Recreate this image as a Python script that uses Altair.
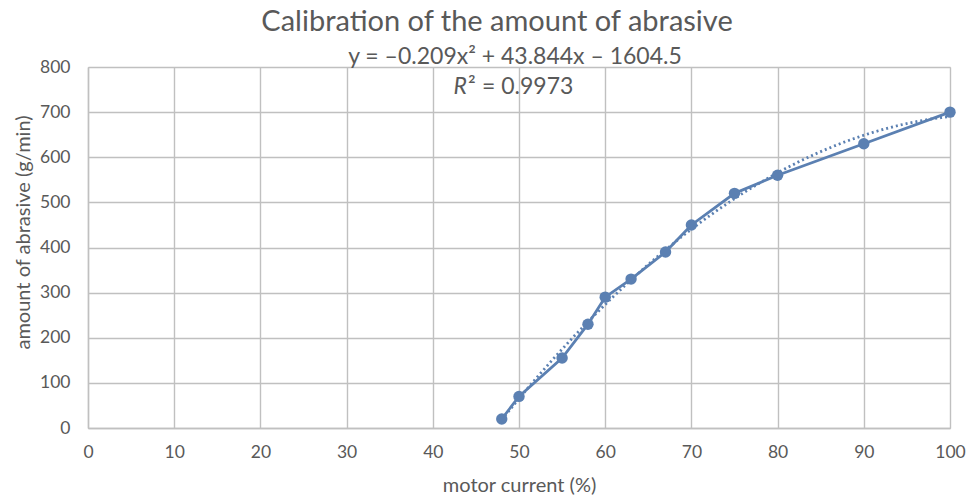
import altair as alt
import pandas as pd

# Calibration measurements: motor current (%) vs. abrasive flow (g/min)
motor_current = [48, 50, 55, 58, 60, 63, 67, 70, 75, 80, 90, 100]
abrasive_amount = [20, 70, 155, 230, 290, 330, 390, 450, 520, 560, 630, 700]

x_ticks = [0, 10, 20, 30, 40, 50, 60, 70, 80, 90, 100]
y_ticks = [0, 100, 200, 300, 400, 500, 600, 700, 800]

chart_title = "Calibration of the amount of abrasive"
equation_text = "y = \u20130.209x\u00b2 + 43.844x \u2013 1604.5"
r2_value = "= 0.9973"

df = pd.DataFrame({"current": motor_current, "amount": abrasive_amount})

FONT = "Lato"
BLUE = "#5b80b2"
GREY = "#595959"
GRID = "#c0c0c0"

x_enc = alt.X(
    "current:Q",
    title="motor current (%)",
    scale=alt.Scale(domain=[0, 100], nice=False),
    axis=alt.Axis(values=x_ticks, grid=True, gridColor=GRID, gridWidth=1.4,
                  domain=True, domainColor=GRID, domainWidth=1.4, ticks=False,
                  labelFlush=False,
                  labelFontSize=17.5, labelColor=GREY, labelPadding=15,
                  titleFontSize=20, titleColor=GREY, titleFontWeight="normal",
                  titlePadding=15, labelFont=FONT, titleFont=FONT),
)
y_enc = alt.Y(
    "amount:Q",
    title="amount of abrasive (g/min)",
    scale=alt.Scale(domain=[0, 800], nice=False),
    axis=alt.Axis(values=y_ticks, grid=True, gridColor=GRID, gridWidth=1.4,
                  domain=True, domainColor=GRID, domainWidth=1.4, ticks=False,
                  labelFontSize=17.5, labelColor=GREY, labelPadding=18,
                  titleFontSize=20, titleColor=GREY, titleFontWeight="normal",
                  titleBaseline="bottom", titleX=-55, titleY=165,
                  labelFont=FONT, titleFont=FONT),
)

base = alt.Chart(df)

line = base.mark_line(color=BLUE, strokeWidth=2.8).encode(x=x_enc, y=y_enc)
points = base.mark_point(filled=True, color=BLUE, size=130, opacity=1).encode(x="current:Q", y="amount:Q")

trend = base.transform_regression(
    "current", "amount", method="poly", order=2
).mark_line(color=BLUE, strokeWidth=2.8, strokeDash=[2, 3]).encode(x="current:Q", y="amount:Q")


def label(text, x, y, size, align="center", style="normal"):
    return alt.Chart(pd.DataFrame({"t": [text]})).mark_text(
        font=FONT, fontSize=size, color=GREY, align=align, baseline="middle",
        fontStyle=style
    ).encode(x=alt.value(x), y=alt.value(y), text="t:N")


title = label(chart_title, 409, -45, 29)
eq = label(equation_text, 427, -10, 23)
r2_label = label("R", 379, 20, 23, align="right", style="italic")
r2_sup = label("\u00b2", 380, 20, 23, align="left")
r2_rest = label(r2_value, 394, 20, 23, align="left")

chart = alt.layer(trend, line, points, title, eq, r2_label, r2_sup, r2_rest).properties(
    width=862,
    height=361,
    autosize=alt.AutoSizeParams(type="none"),
    padding={"left": 88, "top": 67, "right": 28, "bottom": 67},
).configure_view(stroke=None).configure(background="white")

chart.save("out.html", embed_options={"renderer": "svg", "actions": False})
